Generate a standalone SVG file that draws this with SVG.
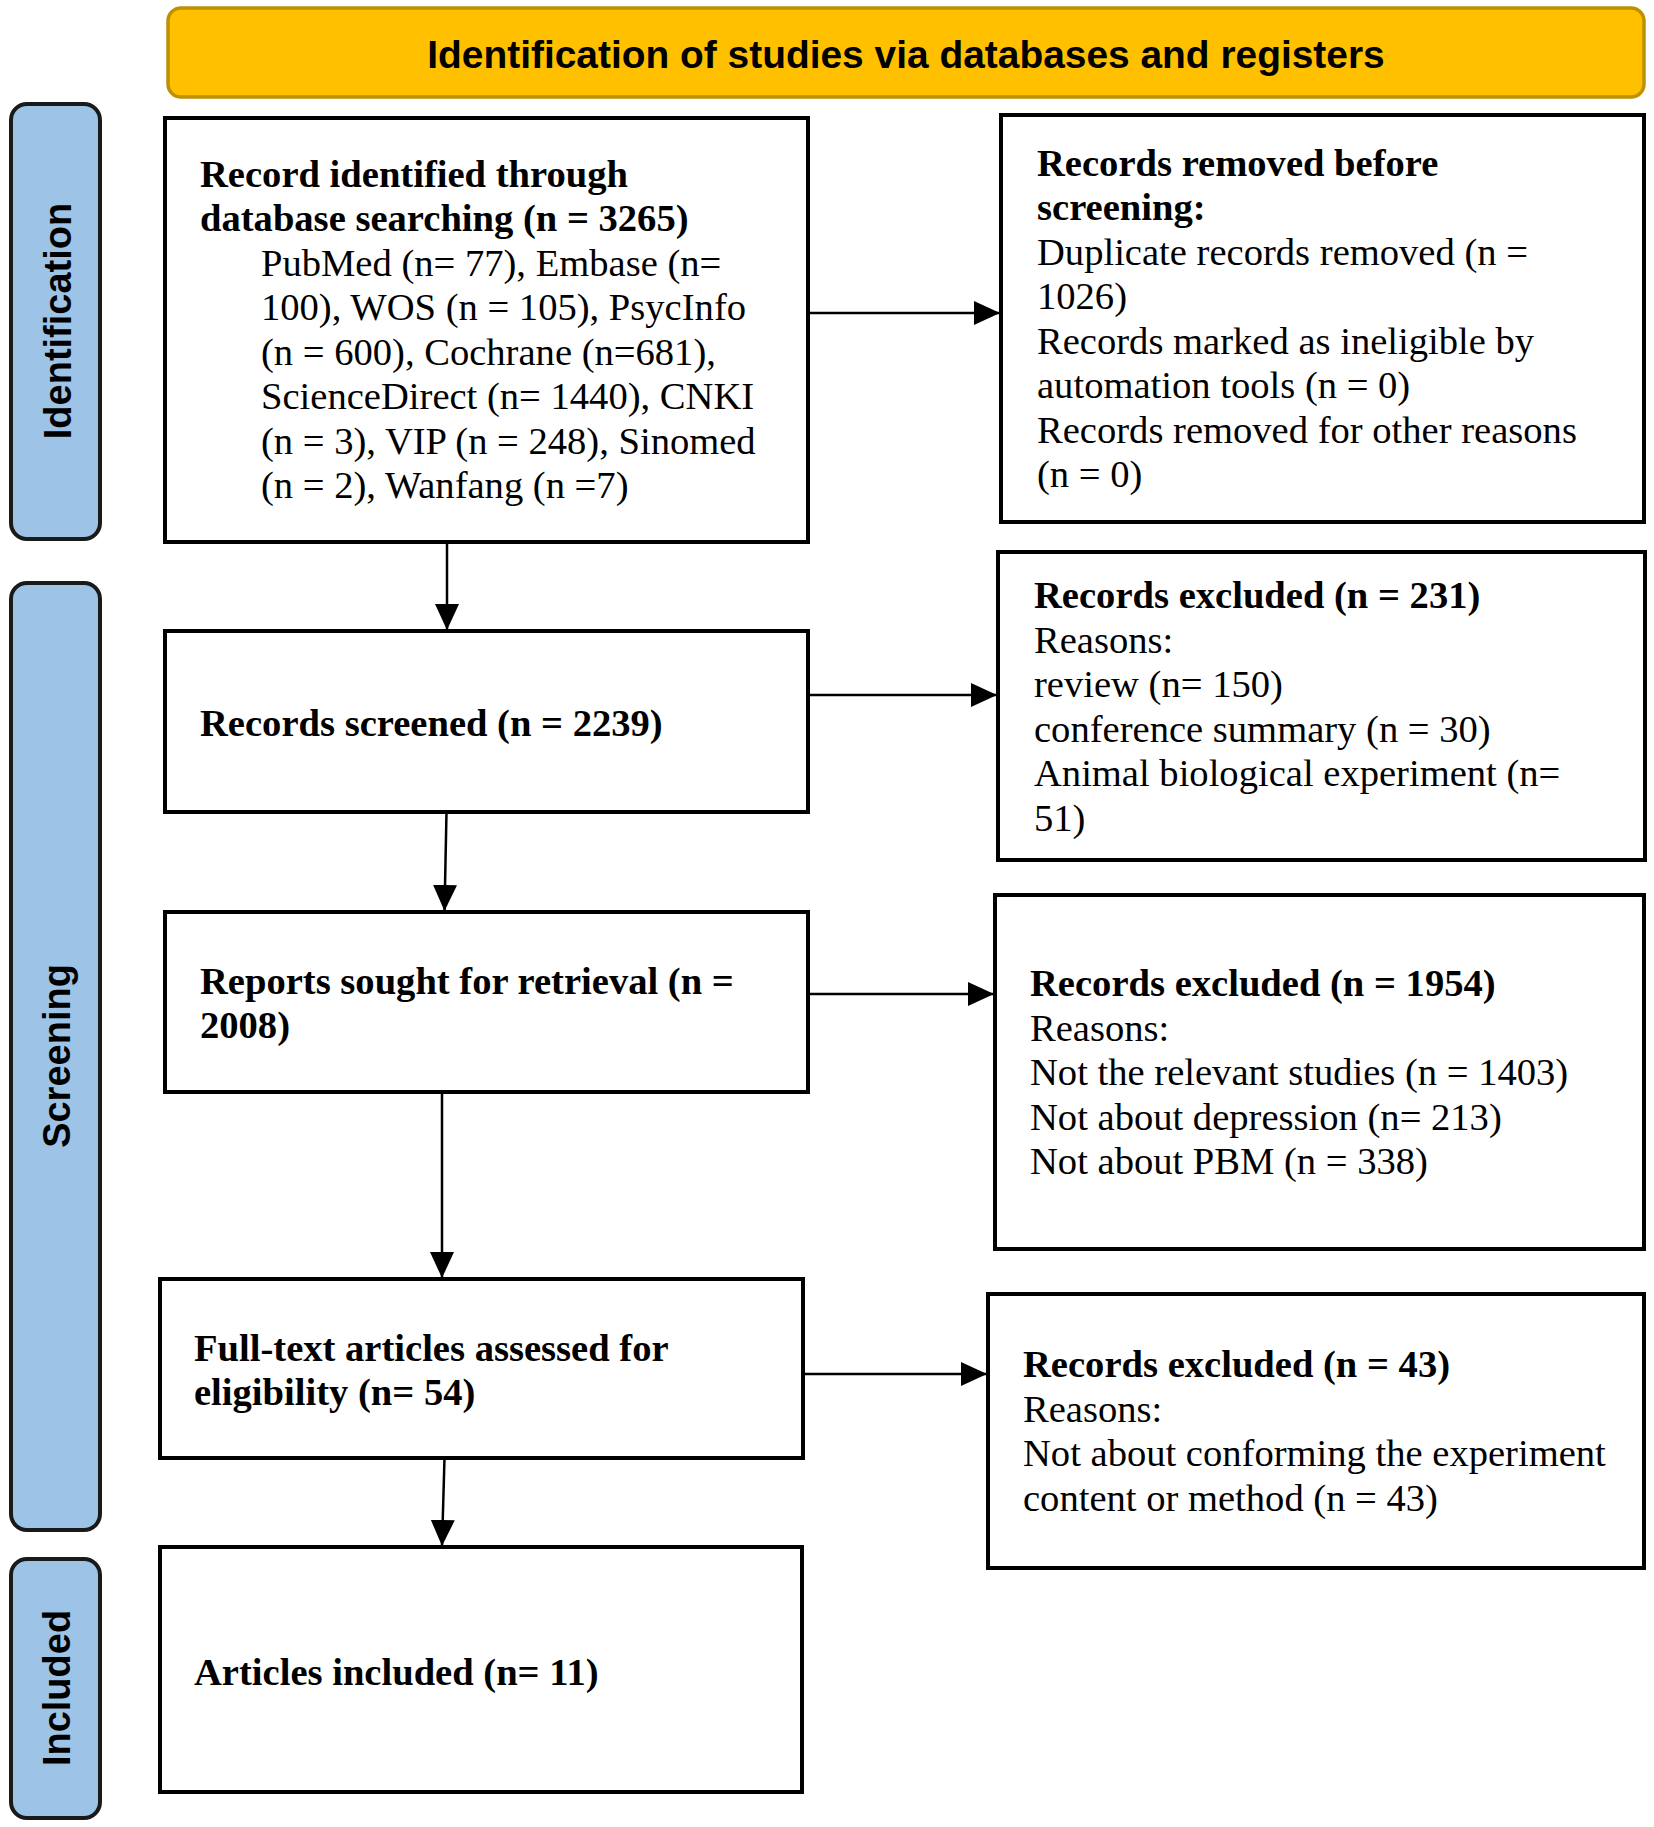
<svg xmlns="http://www.w3.org/2000/svg" width="1654" height="1827" viewBox="0 0 1654 1827">
<style>
.box{fill:#ffffff;stroke:#000000;stroke-width:4}
.side{fill:#9DC3E6;stroke:#1a1a1a;stroke-width:4}
.banner{fill:#FFC000;stroke:#BF9000;stroke-width:3.5}
.sans{font-family:"Liberation Sans",Arial,sans-serif;font-weight:bold;font-size:38px;fill:#000}
.title{font-size:38.9px}
.t{font-family:"Liberation Serif","Times New Roman",serif;font-size:38.6px;fill:#000}
.b{font-weight:bold}
.conn{stroke:#000;stroke-width:2.5;fill:none}
</style>
<defs>
<marker id="ah" markerUnits="userSpaceOnUse" markerWidth="28" markerHeight="26" refX="26" refY="12" orient="auto">
<path d="M0,0 L26,12 L0,24 Z" fill="#000"/>
</marker>
</defs>
<rect width="1654" height="1827" fill="#ffffff"/>

<g id="banner">
<rect class="banner" x="168" y="8" width="1476" height="89" rx="13"/>
<text class="sans title" x="906" y="67.5" text-anchor="middle">Identification of studies via databases and registers</text>
</g>

<g id="phase-identification">
<rect class="side" x="11" y="104" width="89" height="435" rx="16"/>
<text class="sans" transform="translate(71,321) rotate(-90)" text-anchor="middle">Identification</text>
</g>
<g id="phase-screening">
<rect class="side" x="11" y="583" width="89" height="947" rx="16"/>
<text class="sans" transform="translate(70,1056) rotate(-90)" text-anchor="middle">Screening</text>
</g>
<g id="phase-included">
<rect class="side" x="11" y="1559" width="89" height="259" rx="16"/>
<text class="sans" transform="translate(70,1688) rotate(-90)" text-anchor="middle">Included</text>
</g>

<g id="identified">
<rect class="box" x="165" y="118" width="643" height="424"/>
<text class="t b" x="200" y="186.5">Record identified through</text>
<text class="t b" x="200" y="231">database searching (n = 3265)</text>
<text class="t" x="261" y="275.5">PubMed (n= 77), Embase (n=</text>
<text class="t" x="261" y="320">100), WOS (n = 105), PsycInfo</text>
<text class="t" x="261" y="364.5">(n = 600), Cochrane (n=681),</text>
<text class="t" x="261" y="409">ScienceDirect (n= 1440), CNKI</text>
<text class="t" x="261" y="453.5">(n = 3), VIP (n = 248), Sinomed</text>
<text class="t" x="261" y="498">(n = 2), Wanfang (n =7)</text>
</g>

<g id="removed">
<rect class="box" x="1001" y="115" width="643" height="407"/>
<text class="t b" x="1037" y="176">Records removed before</text>
<text class="t b" x="1037" y="220">screening:</text>
<text class="t" x="1037" y="264.5">Duplicate records removed (n =</text>
<text class="t" x="1037" y="309">1026)</text>
<text class="t" x="1037" y="353.5">Records marked as ineligible by</text>
<text class="t" x="1037" y="398">automation tools (n = 0)</text>
<text class="t" x="1037" y="442.5">Records removed for other reasons</text>
<text class="t" x="1037" y="487">(n = 0)</text>
</g>

<g id="screened">
<rect class="box" x="165" y="631" width="643" height="181"/>
<text class="t b" x="200" y="736">Records screened (n = 2239)</text>
</g>

<g id="excluded-231">
<rect class="box" x="998" y="552" width="647" height="308"/>
<text class="t b" x="1034" y="608">Records excluded (n = 231)</text>
<text class="t" x="1034" y="652.5">Reasons:</text>
<text class="t" x="1034" y="697">review (n= 150)</text>
<text class="t" x="1034" y="741.5">conference summary (n = 30)</text>
<text class="t" x="1034" y="786">Animal biological experiment (n=</text>
<text class="t" x="1034" y="830.5">51)</text>
</g>

<g id="sought">
<rect class="box" x="165" y="912" width="643" height="180"/>
<text class="t b" x="200" y="994">Reports sought for retrieval (n =</text>
<text class="t b" x="200" y="1038">2008)</text>
</g>

<g id="excluded-1954">
<rect class="box" x="995" y="895" width="649" height="354"/>
<text class="t b" x="1030" y="996">Records excluded (n = 1954)</text>
<text class="t" x="1030" y="1040.5">Reasons:</text>
<text class="t" x="1030" y="1085">Not the relevant studies (n = 1403)</text>
<text class="t" x="1030" y="1129.5">Not about depression (n= 213)</text>
<text class="t" x="1030" y="1174">Not about PBM (n = 338)</text>
</g>

<g id="assessed">
<rect class="box" x="160" y="1279" width="643" height="179"/>
<text class="t b" x="194" y="1361">Full-text articles assessed for</text>
<text class="t b" x="194" y="1405">eligibility (n= 54)</text>
</g>

<g id="excluded-43">
<rect class="box" x="988" y="1294" width="656" height="274"/>
<text class="t b" x="1023" y="1377">Records excluded (n = 43)</text>
<text class="t" x="1023" y="1421.5">Reasons:</text>
<text class="t" x="1023" y="1466">Not about conforming the experiment</text>
<text class="t" x="1023" y="1510.5">content or method (n = 43)</text>
</g>

<g id="included">
<rect class="box" x="160" y="1547" width="642" height="245"/>
<text class="t b" x="194" y="1685">Articles included (n= 11)</text>
</g>

<g id="connectors">
<line class="conn" x1="808" y1="313" x2="1000" y2="313" marker-end="url(#ah)"/>
<line class="conn" x1="447" y1="542" x2="447" y2="630" marker-end="url(#ah)"/>
<line class="conn" x1="808" y1="695" x2="997" y2="695" marker-end="url(#ah)"/>
<line class="conn" x1="446.5" y1="812" x2="444.5" y2="911" marker-end="url(#ah)"/>
<line class="conn" x1="806" y1="994" x2="994" y2="994" marker-end="url(#ah)"/>
<line class="conn" x1="442" y1="1092" x2="442" y2="1278" marker-end="url(#ah)"/>
<line class="conn" x1="803" y1="1374" x2="987" y2="1374" marker-end="url(#ah)"/>
<line class="conn" x1="444.5" y1="1458" x2="442" y2="1546" marker-end="url(#ah)"/>
</g>
</svg>
